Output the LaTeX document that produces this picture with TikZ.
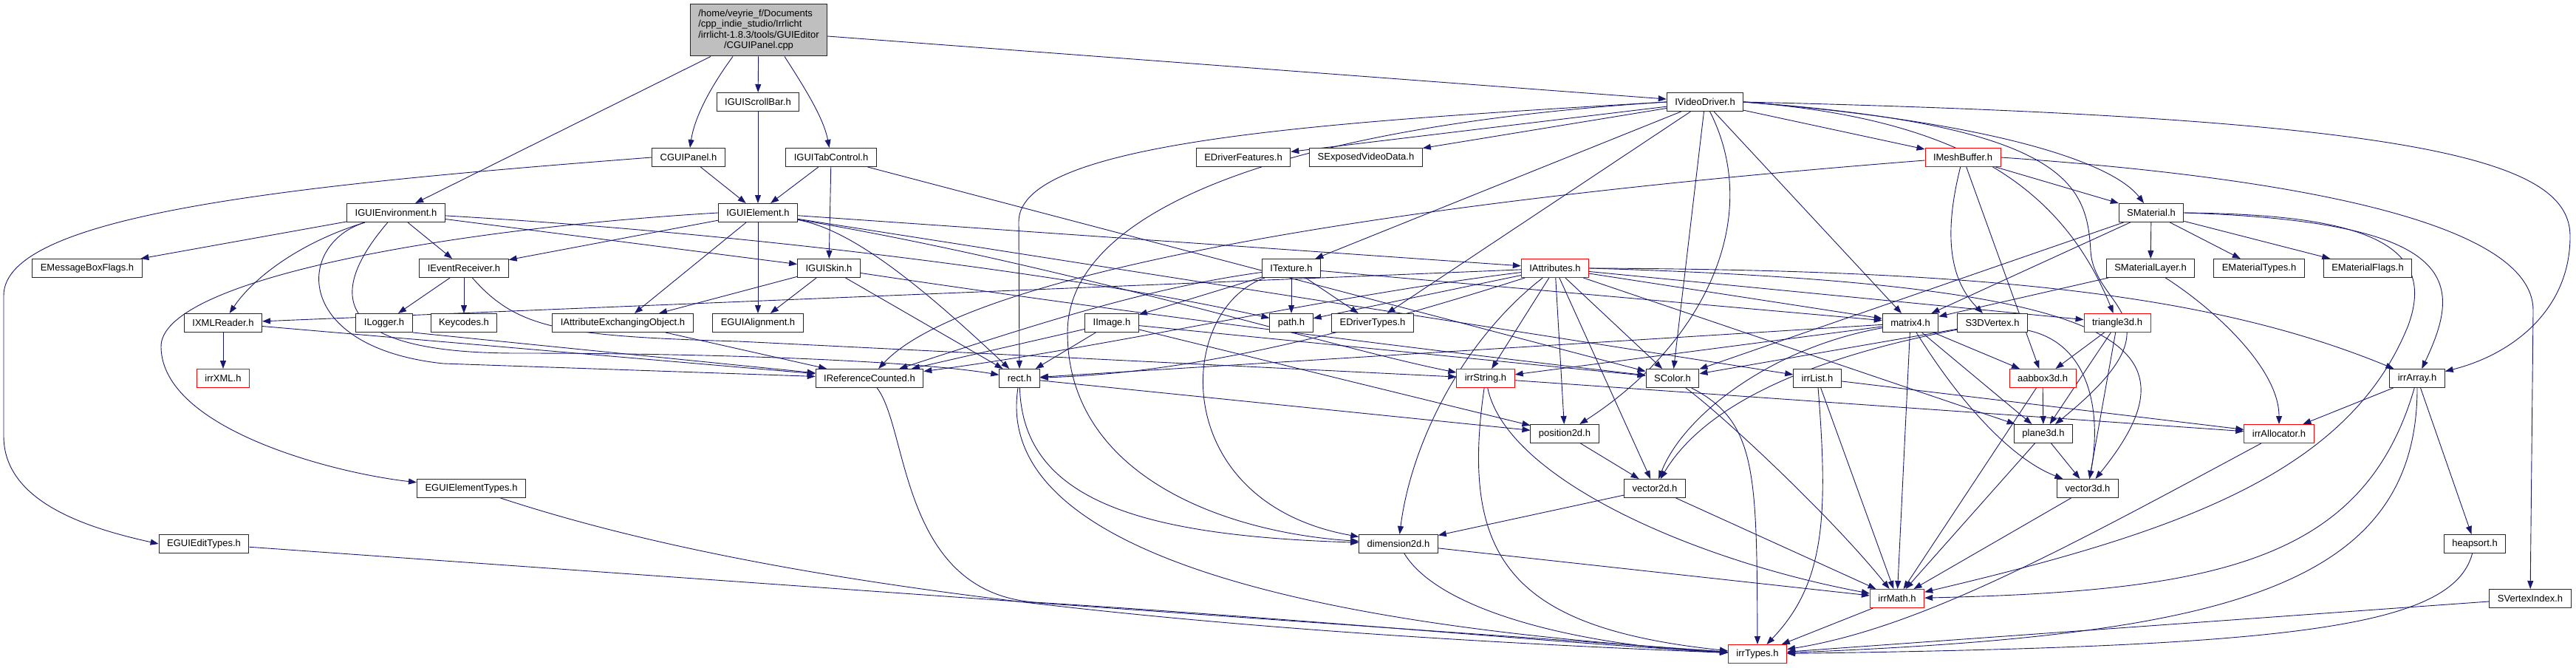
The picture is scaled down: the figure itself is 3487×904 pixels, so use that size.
\documentclass[tikz,border=0pt]{standalone}
\usepackage{fontspec}
\setsansfont{Liberation Sans}
\usetikzlibrary{arrows.meta}
\definecolor{depblue}{HTML}{191970}
\definecolor{rootgray}{HTML}{BFBFBF}
\pgfdeclarelayer{bg}
\pgfsetlayers{bg,main}

\begin{document}
\begin{tikzpicture}[x=1pt,y=-1pt,
  hdr/.style={draw=black!85, line width=1pt, fill=white, inner xsep=11pt, inner ysep=0pt,
    minimum height=25pt, font=\sffamily\fontsize{13}{14.6}\selectfont},
  trunc/.style={hdr, draw=red},
  dep/.style={draw=depblue, line width=0.9pt, -{Triangle[length=11pt,width=8pt]}}]
\useasboundingbox (0,0) rectangle (3487,904);

% source file
\node[hdr, fill=rootgray, minimum height=70pt, inner ysep=2pt] (cpp) at (1027,41)
  {\begin{tabular}{@{}l@{}}/home/veyrie\_f/Documents\\/cpp\_indie\_studio/Irrlicht\\/irrlicht-1.8.3/tools/GUIEditor\\\multicolumn{1}{@{}c@{}}{/CGUIPanel.cpp}\end{tabular}};

% headers, row by row
\node[hdr] (scrollbar) at (1026,138) {IGUIScrollBar.h};
\node[hdr] (videodrv) at (2308,138) {IVideoDriver.h};

\node[hdr] (panelh) at (932,213) {CGUIPanel.h};
\node[hdr] (tabctrl) at (1125,213) {IGUITabControl.h};
\node[hdr] (drvfeat) at (1683,213) {EDriverFeatures.h};
\node[hdr] (exposed) at (1849,213) {SExposedVideoData.h};
\node[trunc] (meshbuf) at (2657,213) {IMeshBuffer.h};

\node[hdr] (guienv) at (536,288) {IGUIEnvironment.h};
\node[hdr] (guielem) at (1026,288) {IGUIElement.h};
\node[hdr] (smaterial) at (2912,288) {SMaterial.h};

\node[hdr] (msgbox) at (118,363) {EMessageBoxFlags.h};
\node[hdr] (evrecv) at (628,363) {IEventReceiver.h};
\node[hdr] (guiskin) at (1122,363) {IGUISkin.h};
\node[hdr] (texture) at (1748,363) {ITexture.h};
\node[trunc] (attribs) at (2105,363) {IAttributes.h};
\node[hdr] (matlayer) at (2911,363) {SMaterialLayer.h};
\node[hdr] (mattypes) at (3058,363) {EMaterialTypes.h};
\node[hdr] (matflags) at (3205,363) {EMaterialFlags.h};

\node[hdr] (xmlreader) at (302,437) {IXMLReader.h};
\node[hdr] (logger) at (520,437) {ILogger.h};
\node[hdr] (keycodes) at (628,437) {Keycodes.h};
\node[hdr] (attrexch) at (843,437) {IAttributeExchangingObject.h};
\node[hdr] (guialign) at (1026,437) {EGUIAlignment.h};
\node[hdr] (image) at (1505,437) {IImage.h};
\node[hdr] (pathh) at (1748,437) {path.h};
\node[hdr] (drvtypes) at (1858,437) {EDriverTypes.h};
\node[hdr] (matrix) at (2586,437) {matrix4.h};
\node[hdr] (s3dvert) at (2697,437) {S3DVertex.h};
\node[trunc] (tri3d) at (2866,437) {triangle3d.h};

\node[trunc] (irrxml) at (302,512) {irrXML.h};
\node[hdr] (refcnt) at (1177,512) {IReferenceCounted.h};
\node[hdr] (recth) at (1380,512) {rect.h};
\node[trunc] (irrstr) at (2011,512) {irrString.h};
\node[hdr] (scolor) at (2264,512) {SColor.h};
\node[hdr] (irrlist) at (2460,512) {irrList.h};
\node[trunc] (aabb) at (2765,512) {aabbox3d.h};
\node[hdr] (irrarray) at (3272,512) {irrArray.h};

\node[hdr] (pos2d) at (2118,587) {position2d.h};
\node[hdr] (plane) at (2766,587) {plane3d.h};
\node[trunc] (alloc) at (3085,587) {irrAllocator.h};

\node[hdr] (elemtypes) at (638,661) {EGUIElementTypes.h};
\node[hdr] (vec2d) at (2240,661) {vector2d.h};
\node[hdr] (vec3d) at (2826,661) {vector3d.h};

\node[hdr] (edittypes) at (276,736) {EGUIEditTypes.h};
\node[hdr] (dim2d) at (1893,736) {dimension2d.h};
\node[hdr] (heapsort) at (3350,736) {heapsort.h};

\node[trunc] (irrmath) at (2568,810) {irrMath.h};
\node[hdr] (svindex) at (3425,810) {SVertexIndex.h};

\node[trunc] (irrtypes) at (2379,885) {irrTypes.h};

\begin{pgfonlayer}{bg}
% includes of the source file
\draw[dep] ([xshift=-65pt]cpp.south) -- (guienv);
\draw[dep] ([xshift=-35pt]cpp.south) .. controls (960,120) and (940,160) .. (panelh);
\draw[dep] (cpp) -- (scrollbar);
\draw[dep] ([xshift=35pt]cpp.south) .. controls (1090,120) and (1115,160) .. (tabctrl);
\draw[dep] ([yshift=-8pt]cpp.east) -- (videodrv);

% GUI headers
\draw[dep] (panelh) -- (guielem);
\draw[dep] (panelh.west) .. controls (400,250) and (5,290) .. (5,400) -- (5,590)
  .. controls (5,680) and (120,715) .. (edittypes.west);
\draw[dep] (scrollbar) -- (guielem);
\draw[dep] (tabctrl) -- (guielem);
\draw[dep] (tabctrl) -- (guiskin);
\draw[dep] (tabctrl) -- (scolor);

\draw[dep] (guienv) -- (msgbox);
\draw[dep] (guienv) .. controls (400,330) and (340,380) .. (xmlreader);
\draw[dep] (guienv) .. controls (400,330) and (395,470) .. (600,492) -- (refcnt);
\draw[dep] (guienv) .. controls (440,400) and (450,478) .. (700,478)
  .. controls (1000,478) and (1250,490) .. (recth);
\draw[dep] (guienv) -- (evrecv);
\draw[dep] (guienv) -- (guiskin);
\draw[dep] (guienv) .. controls (1000,315) and (1450,370) .. (pathh);

\draw[dep] (guielem) -- (evrecv);
\draw[dep] (guielem) -- (attrexch);
\draw[dep] (guielem) -- (guialign);
\draw[dep] (guielem) .. controls (1150,310) and (1240,380) .. (recth);
\draw[dep] (guielem) .. controls (1450,360) and (1800,470) .. (irrstr);
\draw[dep] (guielem) -- (irrlist);
\draw[dep] (guielem) -- (attribs);
\draw[dep] (guielem.west) .. controls (600,310) and (215,380) .. (218,470)
  .. controls (220,580) and (450,640) .. (elemtypes);

\draw[dep] (evrecv) -- (logger);
\draw[dep] (evrecv) -- (keycodes);
\draw[dep] (evrecv) .. controls (700,445) and (760,455) .. (1000,462) -- (irrstr);

\draw[dep] (guiskin) -- (attrexch);
\draw[dep] (guiskin) -- (guialign);
\draw[dep] (guiskin) -- (recth);
\draw[dep] (guiskin) .. controls (1500,420) and (1900,470) .. (scolor);

\draw[dep] (logger.south east) -- (refcnt);
\draw[dep] (xmlreader) -- (irrxml);
\draw[dep] (xmlreader) -- (refcnt);
\draw[dep] (attrexch) -- (refcnt);
\draw[dep] (elemtypes) .. controls (1000,780) and (1500,850) .. (irrtypes);
\draw[dep] (edittypes) -- (irrtypes);
\draw[dep] (refcnt) .. controls (1230,580) and (1218,800) .. (1400,815)
  .. controls (1800,840) and (2100,870) .. (irrtypes);
\draw[dep] (recth) .. controls (1335,800) and (2000,860) .. (irrtypes);
\draw[dep] (recth) .. controls (1385,680) and (1550,725) .. (dim2d);
\draw[dep] (recth) -- (pos2d);

% video driver
\draw[dep] (videodrv) -- (drvfeat);
\draw[dep] (videodrv) -- (exposed);
\draw[dep] (videodrv) -- (texture);
\draw[dep] (videodrv) -- (drvtypes);
\draw[dep] (videodrv) -- (meshbuf);
\draw[dep] (videodrv) -- (matrix);
\draw[dep] (videodrv) -- (scolor);
\draw[dep] (videodrv) .. controls (2390,300) and (2300,470) .. (pos2d);
\draw[dep] (videodrv.west) .. controls (1800,165) and (1379,190) .. (1379,300) -- (recth);
\draw[dep] (videodrv.west) .. controls (1750,170) and (1445,280) .. (1445,450)
  .. controls (1445,640) and (1650,720) .. (dim2d);
\draw[dep] (videodrv.east) .. controls (2700,165) and (2860,220) .. (smaterial);
\draw[dep] (videodrv.east) .. controls (2650,160) and (2790,250) .. (tri3d);
\draw[dep] (videodrv.east) .. controls (2800,170) and (2825,250) .. (2830,340)
  .. controls (2835,420) and (2960,430) .. (plane);
\draw[dep] (videodrv.east) .. controls (3300,160) and (3479,220) .. (3479,320)
  .. controls (3479,420) and (3400,480) .. (irrarray);

\draw[dep] (meshbuf) .. controls (1800,280) and (1300,380) .. (refcnt);
\draw[dep] (meshbuf) -- (smaterial);
\draw[dep] (meshbuf) .. controls (2630,320) and (2640,380) .. (s3dvert);
\draw[dep] (meshbuf) -- (aabb);
\draw[dep] (meshbuf.east) .. controls (3100,240) and (3429,300) .. (3429,420) -- (svindex);

\draw[dep] (smaterial) -- (scolor);
\draw[dep] (smaterial) -- (matrix);
\draw[dep] (smaterial) -- (matlayer);
\draw[dep] (smaterial) -- (mattypes);
\draw[dep] (smaterial) -- (matflags);
\draw[dep] (smaterial.east) .. controls (3330,300) and (3335,380) .. (irrarray);
\draw[dep] (smaterial.east) .. controls (3200,290) and (3300,330) .. (3260,440)
  .. controls (3180,640) and (2950,720) .. (irrmath);
\draw[dep] (matlayer) -- (matrix);
\draw[dep] (matlayer) .. controls (3000,420) and (3085,500) .. (alloc);

\draw[dep] (texture) -- (pathh);
\draw[dep] (texture) -- (drvtypes);
\draw[dep] (texture) -- (image);
\draw[dep] (texture) .. controls (1550,390) and (1400,440) .. (refcnt);
\draw[dep] (texture) -- (matrix);
\draw[dep] (texture) .. controls (1590,420) and (1580,680) .. (dim2d);

\draw[dep] (image) -- (refcnt);
\draw[dep] (image) -- (recth);
\draw[dep] (image) -- (pos2d);
\draw[dep] (image) -- (scolor);

% attributes
\draw[dep] (attribs) -- (xmlreader);
\draw[dep] (attribs) .. controls (1800,400) and (1500,470) .. (refcnt);
\draw[dep] (attribs) .. controls (1800,460) and (1600,505) .. (recth);
\draw[dep] (attribs) -- (pathh);
\draw[dep] (attribs) -- (irrstr);
\draw[dep] (attribs) -- (pos2d);
\draw[dep] (attribs) .. controls (1980,460) and (1910,600) .. (dim2d);
\draw[dep] (attribs) -- (vec2d);
\draw[dep] (attribs) -- (scolor);
\draw[dep] (attribs) -- (matrix);
\draw[dep] (attribs) -- (tri3d);
\draw[dep] (attribs) -- (plane);
\draw[dep] (attribs.east) .. controls (2900,385) and (2980,470) .. (vec3d);
\draw[dep] (attribs.east) .. controls (2700,365) and (3000,400) .. (irrarray);

% core math and containers
\draw[dep] (matrix) -- (irrmath);
\draw[dep] (matrix) -- (aabb);
\draw[dep] (matrix) -- (plane);
\draw[dep] (matrix) .. controls (2650,540) and (2720,620) .. (vec3d);
\draw[dep] (matrix) .. controls (2400,470) and (2280,560) .. (vec2d);
\draw[dep] (matrix) -- (recth);
\draw[dep] (matrix) -- (irrstr);

\draw[dep] (s3dvert) .. controls (2830,465) and (2845,560) .. (vec3d);
\draw[dep] (s3dvert) .. controls (2420,490) and (2300,560) .. (vec2d);
\draw[dep] (s3dvert) -- (scolor);

\draw[dep] (tri3d) -- (aabb);
\draw[dep] (tri3d) -- (plane);
\draw[dep] (tri3d) -- (vec3d);
\draw[dep] (aabb) -- (plane);
\draw[dep] (aabb) -- (irrmath);
\draw[dep] (plane) -- (irrmath);
\draw[dep] (plane) -- (vec3d);
\draw[dep] (vec3d) -- (irrmath);
\draw[dep] (vec2d) -- (irrmath);
\draw[dep] (vec2d) -- (dim2d);
\draw[dep] (pos2d) -- (vec2d);
\draw[dep] (dim2d) .. controls (1950,830) and (2150,875) .. (irrtypes);
\draw[dep] (dim2d) -- (irrmath);

\draw[dep] (irrstr) .. controls (1975,760) and (2050,850) .. (irrtypes);
\draw[dep] (irrstr) -- (alloc);
\draw[dep] (irrstr) .. controls (2040,650) and (2300,760) .. (irrmath);
\draw[dep] (scolor) .. controls (2378,570) and (2378,640) .. (irrtypes);
\draw[dep] (scolor) .. controls (2330,560) and (2480,700) .. (irrmath);
\draw[dep] (irrlist) .. controls (2475,700) and (2470,790) .. (irrtypes);
\draw[dep] (irrlist) -- (alloc);
\draw[dep] (irrlist) -- (irrmath);

\draw[dep] (irrarray) -- (alloc);
\draw[dep] (irrarray) -- (heapsort);
\draw[dep] (irrarray) .. controls (3200,760) and (3000,800) .. (irrmath);
\draw[dep] (irrarray) .. controls (3272,800) and (3000,860) .. (irrtypes);
\draw[dep] (heapsort) .. controls (3320,850) and (3100,875) .. (irrtypes);
\draw[dep] (alloc) .. controls (2800,740) and (2600,850) .. (irrtypes);
\draw[dep] (irrmath) -- (irrtypes);
\draw[dep] (svindex) -- (irrtypes);
\end{pgfonlayer}
\end{tikzpicture}
\end{document}
